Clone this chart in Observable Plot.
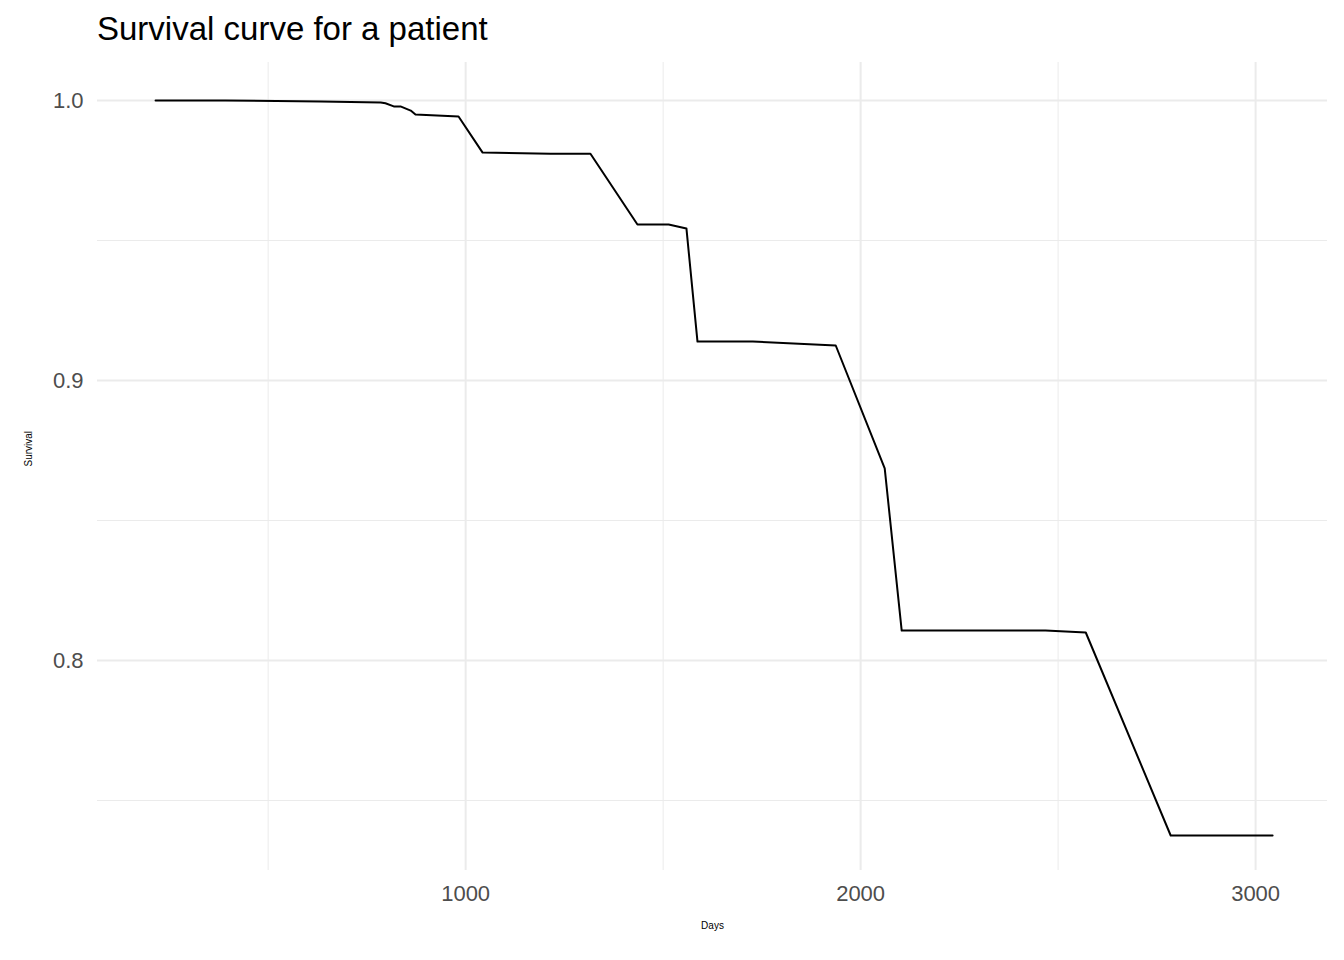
<!DOCTYPE html>
<html>
<head>
<meta charset="utf-8">
<script src="https://cdn.jsdelivr.net/npm/d3@7"></script>
<script src="https://cdn.jsdelivr.net/npm/@observablehq/plot@0.6"></script>
<style>
  body { margin: 0; background: #fff; font-family: "Liberation Sans", Arial, sans-serif; }
  #title { height: 43px; padding: 11px 0 0 97px; font-size: 33px; line-height: 36px; color: #000; }
  #chart svg g[aria-label="x-axis tick label"] text,
  #chart svg g[aria-label="y-axis tick label"] text { font-size: 22px; fill: #4d4d4d; }
  #chart svg g[aria-label="axis-title"] text { font-size: 28px; fill: #000; }
</style>
</head>
<body>
<div id="title">Survival curve for a patient</div>
<div id="chart"></div>
<script>
// curva
const days = [215, 392, 633, 785, 797, 818, 835, 861, 873, 982, 1043, 1215, 1316, 1435, 1514, 1559, 1587, 1727, 1937, 2061, 2104, 2468, 2570, 2785, 3043]
const survival = [1.0, 1.0, 0.9996, 0.9993, 0.999, 0.9979, 0.9979, 0.9964, 0.995, 0.9943, 0.9814, 0.981, 0.981, 0.9557, 0.9557, 0.9543, 0.9139, 0.9139, 0.9125, 0.8686, 0.8107, 0.8107, 0.81, 0.7375, 0.7375]
const xTicks = [1000, 2000, 3000]
const xMinor = [500, 1500, 2500]
const yTicks = [0.8, 0.9, 1.0]
const yMinor = [0.75, 0.85, 0.95]

const data = days.map((d, i) => ({days: d, survival: survival[i]}))

let chart = Plot.plot({
  width: 1344,
  height: 906,
  marginTop: 8,
  marginBottom: 90,
  marginLeft: 97,
  marginRight: 17,
  style: {fontFamily: "Liberation Sans, Arial, sans-serif", color: "#000"},
  x: {domain: [68, 3182]},
  y: {domain: [0.725, 1.01357]},
  marks: [
    Plot.gridX(xMinor, {stroke: "#ebebeb", strokeOpacity: 1, strokeWidth: 1}),
    Plot.gridY(yMinor, {stroke: "#ebebeb", strokeOpacity: 1, strokeWidth: 1}),
    Plot.gridX(xTicks, {stroke: "#ebebeb", strokeOpacity: 1, strokeWidth: 2}),
    Plot.gridY(yTicks, {stroke: "#ebebeb", strokeOpacity: 1, strokeWidth: 2}),
    Plot.axisX(xTicks, {tickSize: 0, tickPadding: 15, label: null, tickFormat: d3.format("d")}),
    Plot.axisY(yTicks, {tickSize: 0, tickPadding: 14, label: null, tickFormat: d3.format(".1f")}),
    Plot.line(data, {x: "days", y: "survival", stroke: "#000", strokeWidth: 2}),
    Plot.text(["Days"], {frameAnchor: "bottom", dy: 58, ariaLabel: "axis-title"}),
    Plot.text(["Survival"], {frameAnchor: "left", dx: -69, rotate: -90, ariaLabel: "axis-title"})
  ]
})
d3.select('#chart').append(() => chart)
</script>
</body>
</html>
